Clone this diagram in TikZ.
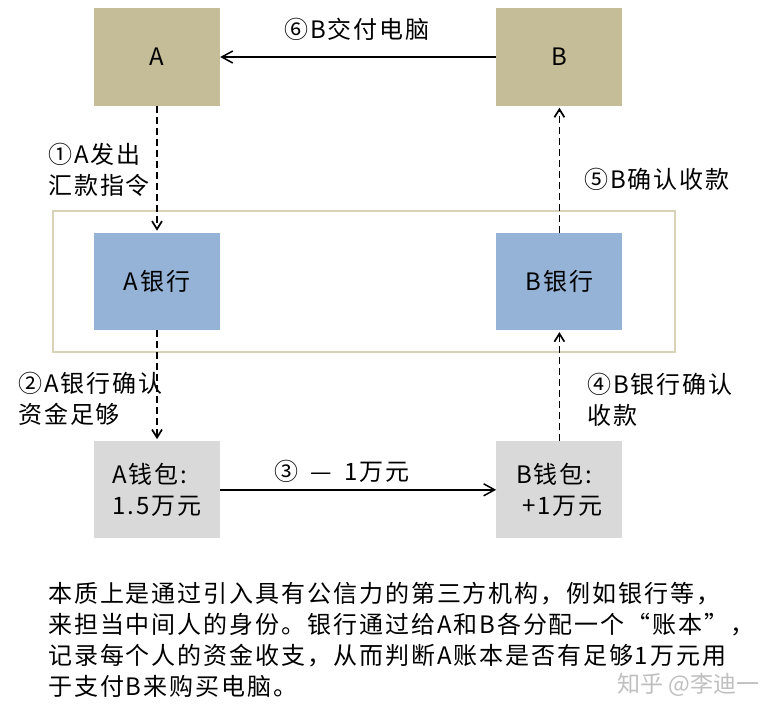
\documentclass[tikz,border=0pt]{standalone}
\usepackage{fontspec}
\setmainfont{Noto Sans CJK SC}[LetterSpace=8]
\newfontfamily\markfont{Noto Sans CJK SC}
\usepackage{tikz}
\usetikzlibrary{arrows.meta, positioning}
\definecolor{cTan}{RGB}{196,189,151}
\definecolor{cBlue}{RGB}{149,179,215}
\definecolor{cGrey}{RGB}{217,217,217}
\definecolor{cFrame}{RGB}{216,210,184}
\tikzset{
	party/.style ={rectangle, minimum width=126pt, minimum height=97pt, text centered, align=center, fill=cTan},
	bank/.style  ={rectangle, minimum width=126pt, minimum height=97pt, text centered, align=center, fill=cBlue},
	wallet/.style={rectangle, minimum width=126pt, minimum height=97pt, align=left, fill=cGrey},
	steptext/.style={anchor=north west, align=left, inner sep=0pt},
	solidarrow/.style={-{Straight Barb[length=11pt, width=12pt]}, line width=1.5pt},
	dasharrow/.style ={-{Straight Barb[length=8pt, width=10pt]}, line width=1.7pt, dash pattern=on 7pt off 4pt, shorten >=2pt},
}

\begin{document}
\begin{tikzpicture}[x=1pt, y=-1pt, font=\fontsize{24pt}{31pt}\selectfont]
	\useasboundingbox (0,0) rectangle (784,717);
	% parties, banks and wallets
	\node[party] (A) at (157,57) {A};
	\node[party, right=276pt of A] (B) {B};
	\node[bank, below=127pt of A] (Abank) {A银行};
	\node[bank, below=127pt of B] (Bbank) {B银行};
	\node[wallet, below=111pt of Abank] (Awallet) {A钱包:\\1.5万元};
	\node[wallet, below=111pt of Bbank] (Bwallet) {B钱包:\\\hspace*{6pt}+1万元};
	\draw[cFrame, line width=2pt] (53,211) rectangle (675,352);
	% flow
	\draw[solidarrow] (B) -- (A);
	\draw[dasharrow] (A) -- (Abank);
	\draw[dasharrow] (Abank) -- (Awallet);
	\draw[solidarrow] (Awallet) -- (Bwallet);
	\draw[dasharrow] (Bwallet) -- (Bbank);
	\draw[dasharrow] (Bbank) -- (B);
	% step labels
	\node[anchor=north, inner sep=0pt] (step6) at (357,18) {⑥B交付电脑};
	\node[steptext] (step1) at (48,143) {①A发出\\汇款指令};
	\node[steptext] (step5) at (584,168) {⑤B确认收款};
	\node[steptext] (step2) at (18,372) {②A银行确认\\资金足够};
	\node[steptext] (step4) at (587,373) {④B银行确认\\收款};
	\node[anchor=north, inner sep=0pt] (step3) at (342,460) {③\enspace—\enspace1万元};
	\node[steptext] (note) at (48,582) {本质上是通过引入具有公信力的第三方机构，例如银行等，\\来担当中间人的身份。银行通过给A和B各分配一个“账本”，\\记录每个人的资金收支，从而判断A账本是否有足够1万元用\\于支付B来购买电脑。};
	\node[anchor=north west, inner sep=0pt, text=black!25, font=\markfont\fontsize{23pt}{28pt}\selectfont] (mark) at (617,673) {知乎 @李迪一};
\end{tikzpicture}
\end{document}
